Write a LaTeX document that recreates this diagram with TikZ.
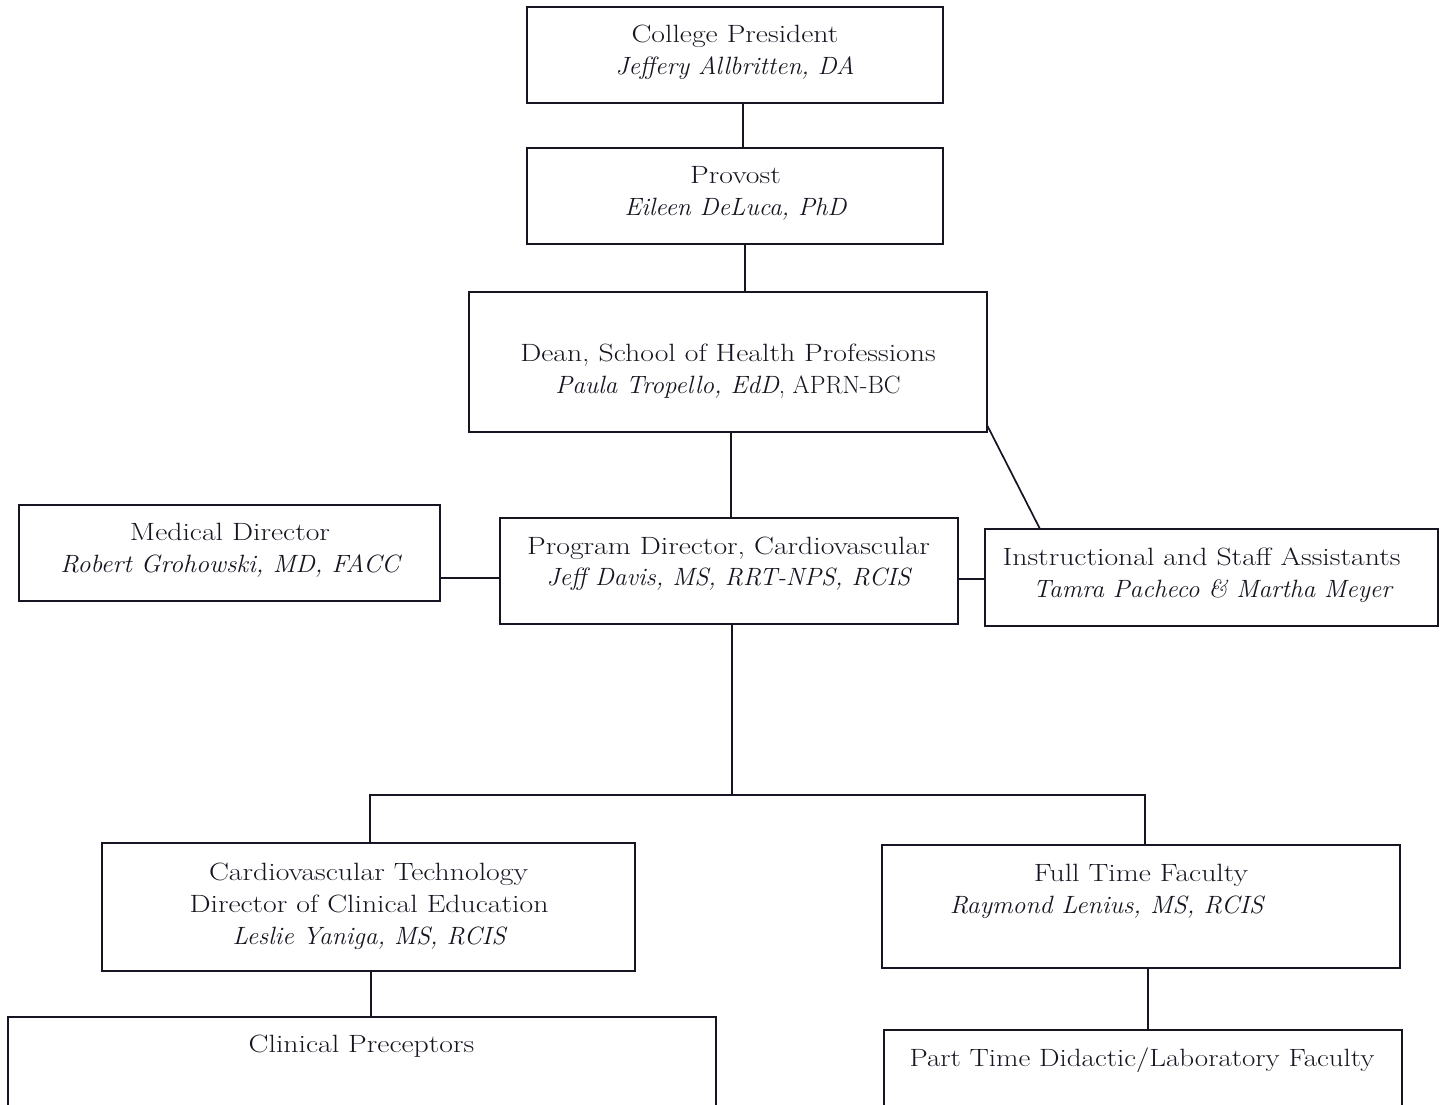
\documentclass[tikz,border=0pt]{standalone}
\usepackage{graphicx}
\definecolor{ink}{RGB}{22,22,34}
\newcommand{\wideR}[1]{\scalebox{1.19}[1]{#1}}
\newcommand{\wideI}[1]{\scalebox{1.015}[1]{\itshape #1}}
\begin{document}
\begin{tikzpicture}[x=1pt,y=-1pt,
  box/.style={draw=ink,line width=1.7pt,rectangle,inner sep=0pt,outer sep=0pt},
  txt/.style={anchor=base,inner sep=0pt,outer sep=0pt,text=ink,font=\fontsize{25}{30}\selectfont}]
\clip (0,0) rectangle (1443,1105);
\fill[white] (0,0) rectangle (1443,1105);
% boxes
\node[box,minimum width=416pt,minimum height=96pt] (pres) at (735,55) {};
\node[box,minimum width=416pt,minimum height=96pt] (prov) at (735,196) {};
\node[box,minimum width=518pt,minimum height=140pt] (dean) at (728,362) {};
\node[box,minimum width=421pt,minimum height=96pt] (med) at (229.5,553) {};
\node[box,minimum width=458pt,minimum height=106pt] (prog) at (729,571) {};
\node[box,minimum width=453pt,minimum height=97pt] (instr) at (1211.5,577.5) {};
\node[box,minimum width=533pt,minimum height=128pt] (cvt) at (368.5,907) {};
\node[box,minimum width=518pt,minimum height=123pt] (ftf) at (1141,906.5) {};
\node[box,minimum width=708pt,minimum height=123pt] (clin) at (362,1078.5) {};
\node[box,minimum width=518pt,minimum height=110pt] (part) at (1143,1085) {};
% texts
\node[txt] (pres1) at (735,43) {\wideR{College President}};
\node[txt] (pres2) at (735,75) {\wideI{Jeffery Allbritten, DA}};
\node[txt] (prov1) at (735.5,183) {\wideR{Provost}};
\node[txt] (prov2) at (735.5,215) {\wideI{Eileen DeLuca, PhD}};
\node[txt] (dean1) at (728,361) {\wideR{Dean, School of Health Professions}};
\node[txt] (dean2) at (728,393) {\wideI{Paula Tropello, EdD}, APRN-BC};
\node[txt] (med1) at (230,540) {\wideR{Medical Director}};
\node[txt] (med2) at (230,572) {\scalebox{1.04}[1]{\itshape Robert Grohowski, MD, FACC}};
\node[txt] (prog1) at (728.5,554) {\wideR{Program Director, Cardiovascular}};
\node[txt] (prog2) at (728.5,585) {\wideI{Jeff Davis, MS, RRT-NPS, RCIS}};
\node[txt] (instr1) at (1201.5,565) {\wideR{Instructional and Staff Assistants}};
\node[txt] (instr2) at (1212.5,597) {\wideI{Tamra Pacheco \& Martha Meyer}};
\node[txt] (cvt1) at (368.5,880) {\wideR{Cardiovascular Technology}};
\node[txt] (cvt2) at (369,912) {\wideR{Director of Clinical Education}};
\node[txt] (cvt3) at (369,944) {\wideI{Leslie Yaniga, MS, RCIS}};
\node[txt] (ftf1) at (1141,881) {\wideR{Full Time Faculty}};
\node[txt] (ftf2) at (1106.5,913) {\scalebox{1.03}[1]{\itshape Raymond Lenius, MS, RCIS}};
\node[txt] (clin1) at (361.5,1052) {\wideR{Clinical Preceptors}};
\node[txt] (part1) at (1142,1066) {\scalebox{1.16}[1]{Part Time Didactic/Laboratory Faculty}};
% connector guide coordinates
\coordinate (j1) at (743,0);
\coordinate (j2) at (745,0);
\coordinate (j3) at (731,0);
\coordinate (j4) at (1040,0);
\coordinate (j5) at (0,578);
\coordinate (j6) at (0,579);
\coordinate (j7) at (732,0);
\coordinate (bus) at (0,795);
\coordinate (k1) at (370,0);
\coordinate (k2) at (1145,0);
\coordinate (k3) at (371,0);
\coordinate (k4) at (1148,0);
\begin{scope}[draw=ink,line width=1.7pt]
\draw (pres.south -| j1) -- (prov.north -| j1);
\draw (prov.south -| j2) -- (dean.north -| j2);
\draw (dean.south -| j3) -- (prog.north -| j3);
\draw ([yshift=7pt]dean.south east) -- (instr.north -| j4);
\draw (med.east |- j5) -- (prog.west |- j5);
\draw (prog.east |- j6) -- (instr.west |- j6);
\draw (prog.south -| j7) -- (bus -| j7);
\draw (cvt.north -| k1) -- (bus -| k1) -- (bus -| k2) -- (ftf.north -| k2);
\draw (cvt.south -| k3) -- (clin.north -| k3);
\draw (ftf.south -| k4) -- (part.north -| k4);
\end{scope}
\end{tikzpicture}
\end{document}
